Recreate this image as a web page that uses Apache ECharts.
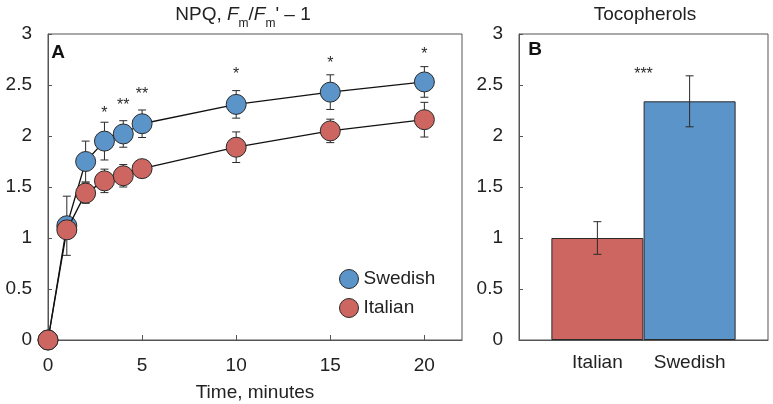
<!DOCTYPE html>
<html>
<head>
<meta charset="utf-8">
<script src="https://cdn.jsdelivr.net/npm/echarts@6/dist/echarts.min.js"></script>
<style>
html,body{margin:0;padding:0;background:#fff;}
#chart{width:773px;height:404px;}
</style>
</head>
<body>
<div id="chart"></div>
<script>
// Panel A: NPQ time course
const times = [0, 1, 2, 3, 4, 5, 10, 15, 20];
const swedish = [0, 1.12, 1.75, 1.95, 2.02, 2.12, 2.31, 2.43, 2.53];
const swedishErr = [0, 0.29, 0.2, 0.185, 0.13, 0.135, 0.135, 0.17, 0.15];
const italian = [0, 1.08, 1.44, 1.56, 1.61, 1.68, 1.89, 2.05, 2.16];
const italianErr = [0, 0.06, 0.1, 0.115, 0.11, 0.08, 0.15, 0.115, 0.17];
const sigA = ['', '', '', '*', '**', '**', '*', '*', '*'];
const sigAHeight = [0, 0, 0, 2.255, 2.336, 2.45, 2.64, 2.745, 2.836];
const xTicksA = [0, 5, 10, 15, 20];

// Panel B: Tocopherols
const barCats = ['Italian', 'Swedish'];
const barVals = [1.0, 2.34];
const barErr = [0.16, 0.25];
const sigB = '***';
const sigBHeight = 2.637;

const BLUE = '#5b94c8';
const RED = '#cd6660';
const DARK = '#2a2a2a';
const FONT = 'Liberation Sans, Arial, sans-serif';
const FS = 19;

const chart = echarts.init(document.getElementById('chart'), null, {renderer: 'canvas'});

function errRender(params, api) {
  const x = api.value(0), y = api.value(1), e = api.value(2);
  if (!e) return null;
  const hi = api.coord([x, y + e]);
  const lo = api.coord([x, y - e]);
  const w = 4;
  const st = {stroke: DARK, lineWidth: 1};
  return {
    type: 'group',
    children: [
      {type: 'line', shape: {x1: hi[0], y1: hi[1], x2: lo[0], y2: lo[1]}, style: st},
      {type: 'line', shape: {x1: hi[0] - w, y1: hi[1], x2: hi[0] + w, y2: hi[1]}, style: st},
      {type: 'line', shape: {x1: lo[0] - w, y1: lo[1], x2: lo[0] + w, y2: lo[1]}, style: st}
    ]
  };
}

const starTexts = {
  starsA: sigA,
  starsB: [sigB]
};

function starRender(params, api) {
  const txt = starTexts[params.seriesName][params.dataIndex];
  if (!txt) return null;
  const p = api.coord([api.value(0), api.value(1)]);
  return {
    type: 'text',
    x: p[0], y: p[1] + 4,
    style: {text: txt, fill: DARK, font: '16px ' + FONT, align: 'center', verticalAlign: 'middle'}
  };
}

const errA_sw = times.map((t, i) => [t, swedish[i], swedishErr[i]]);
const errA_it = times.map((t, i) => [t, italian[i], italianErr[i]]);
const errB = barCats.map((c, i) => [i + 1, barVals[i], barErr[i]]);

const axisLabelStyle = {color: '#222', fontSize: FS, fontFamily: FONT};

const option = {
  animation: false,
  backgroundColor: '#fff',
  textStyle: {fontFamily: FONT},
  grid: [
    {left: 48, right: 311, top: 34, bottom: 64, show: true, borderColor: '#555', borderWidth: 1, backgroundColor: 'transparent', containLabel: false, outerBoundsMode: 'none'},
    {left: 519, right: 5, top: 34, bottom: 64, show: true, borderColor: '#555', borderWidth: 1, backgroundColor: 'transparent', containLabel: false, outerBoundsMode: 'none'}
  ],
  xAxis: [
    {
      type: 'value', gridIndex: 0, min: 0, max: 22, interval: 5,
      axisLine: {show: true, lineStyle: {color: '#555'}},
      axisTick: {show: true, inside: true, length: 5, lineStyle: {color: '#555'}, customValues: xTicksA},
      axisLabel: Object.assign({margin: 16, customValues: xTicksA}, axisLabelStyle),
      splitLine: {show: false},
      name: 'Time, minutes', nameLocation: 'middle', nameGap: 43,
      nameTextStyle: {color: '#222', fontSize: FS, fontFamily: FONT}
    },
    {
      type: 'value', gridIndex: 1, min: 0.15, max: 2.85,
      axisLine: {show: true, lineStyle: {color: '#555'}},
      axisTick: {show: false},
      axisLabel: Object.assign({margin: 13, customValues: [1, 2], formatter: v => barCats[Math.round(v) - 1] || ''}, axisLabelStyle),
      splitLine: {show: false}
    }
  ],
  yAxis: [
    {
      type: 'value', gridIndex: 0, min: 0, max: 3, interval: 0.5,
      axisLine: {show: true, lineStyle: {color: '#555'}},
      axisTick: {show: true, inside: true, length: 4, lineStyle: {color: '#555'}},
      axisLabel: Object.assign({margin: 16}, axisLabelStyle),
      splitLine: {show: false}
    },
    {
      type: 'value', gridIndex: 1, min: 0, max: 3, interval: 0.5,
      axisLine: {show: true, lineStyle: {color: '#555'}},
      axisTick: {show: true, inside: true, length: 4, lineStyle: {color: '#555'}},
      axisLabel: Object.assign({margin: 16}, axisLabelStyle),
      splitLine: {show: false}
    }
  ],
  legend: {
    data: ['Swedish', 'Italian'],
    orient: 'vertical',
    left: 339, top: 269,
    padding: 0,
    itemWidth: 19, itemHeight: 19, itemGap: 9,
    icon: 'circle',
    itemStyle: {borderColor: DARK, borderWidth: 1},
    textStyle: {color: '#222', fontSize: FS, fontFamily: FONT}
  },
  graphic: [
    {
      type: 'text', x: 243, y: 15,
      style: {
        text: 'NPQ, {i|F}{s|m}/{i|F}{s|m}\' – 1',
        font: FS + 'px ' + FONT, fill: '#222', align: 'center', verticalAlign: 'middle',
        rich: {
          i: {fontStyle: 'italic', fontSize: FS, fontFamily: FONT, fill: '#222'},
          s: {fontSize: 12, fontFamily: FONT, fill: '#222', verticalAlign: 'bottom', lineHeight: 30}
        }
      }
    },
    {
      type: 'text', x: 645, y: 15,
      style: {text: 'Tocopherols', font: FS + 'px ' + FONT, fill: '#222', align: 'center', verticalAlign: 'middle'}
    },
    {
      type: 'text', x: 58, y: 53,
      style: {text: 'A', font: 'bold ' + FS + 'px ' + FONT, fill: '#111', align: 'center', verticalAlign: 'middle'}
    },
    {
      type: 'text', x: 535, y: 50,
      style: {text: 'B', font: 'bold ' + FS + 'px ' + FONT, fill: '#111', align: 'center', verticalAlign: 'middle'}
    }
  ],
  series: [
    {
      name: 'errSw', type: 'custom', xAxisIndex: 0, yAxisIndex: 0, z: 1,
      renderItem: errRender, data: errA_sw, silent: true
    },
    {
      name: 'errIt', type: 'custom', xAxisIndex: 0, yAxisIndex: 0, z: 1,
      renderItem: errRender, data: errA_it, silent: true
    },
    {
      name: 'Swedish', type: 'line', xAxisIndex: 0, yAxisIndex: 0, z: 3,
      data: times.map((t, i) => [t, swedish[i]]),
      symbol: 'circle', symbolSize: 20,
      itemStyle: {color: BLUE, borderColor: DARK, borderWidth: 1},
      lineStyle: {color: '#111', width: 1.3}
    },
    {
      name: 'Italian', type: 'line', xAxisIndex: 0, yAxisIndex: 0, z: 4,
      data: times.map((t, i) => [t, italian[i]]),
      symbol: 'circle', symbolSize: 20,
      itemStyle: {color: RED, borderColor: DARK, borderWidth: 1},
      lineStyle: {color: '#111', width: 1.3}
    },
    {
      name: 'starsA', type: 'custom', xAxisIndex: 0, yAxisIndex: 0, z: 5,
      renderItem: starRender, data: times.map((t, i) => [t, sigAHeight[i]]), silent: true
    },
    {
      name: 'bars', type: 'bar', xAxisIndex: 1, yAxisIndex: 1, z: 2,
      barWidth: 92,
      data: barCats.map((c, i) => ({
        value: [i + 1, barVals[i]],
        itemStyle: {color: i === 0 ? RED : BLUE, borderColor: DARK, borderWidth: 1}
      }))
    },
    {
      name: 'errB', type: 'custom', xAxisIndex: 1, yAxisIndex: 1, z: 3,
      renderItem: errRender, data: errB, silent: true
    },
    {
      name: 'starsB', type: 'custom', xAxisIndex: 1, yAxisIndex: 1, z: 5,
      renderItem: starRender, data: [[1.5, sigBHeight]], silent: true
    }
  ]
};

chart.setOption(option);
</script>
</body>
</html>
